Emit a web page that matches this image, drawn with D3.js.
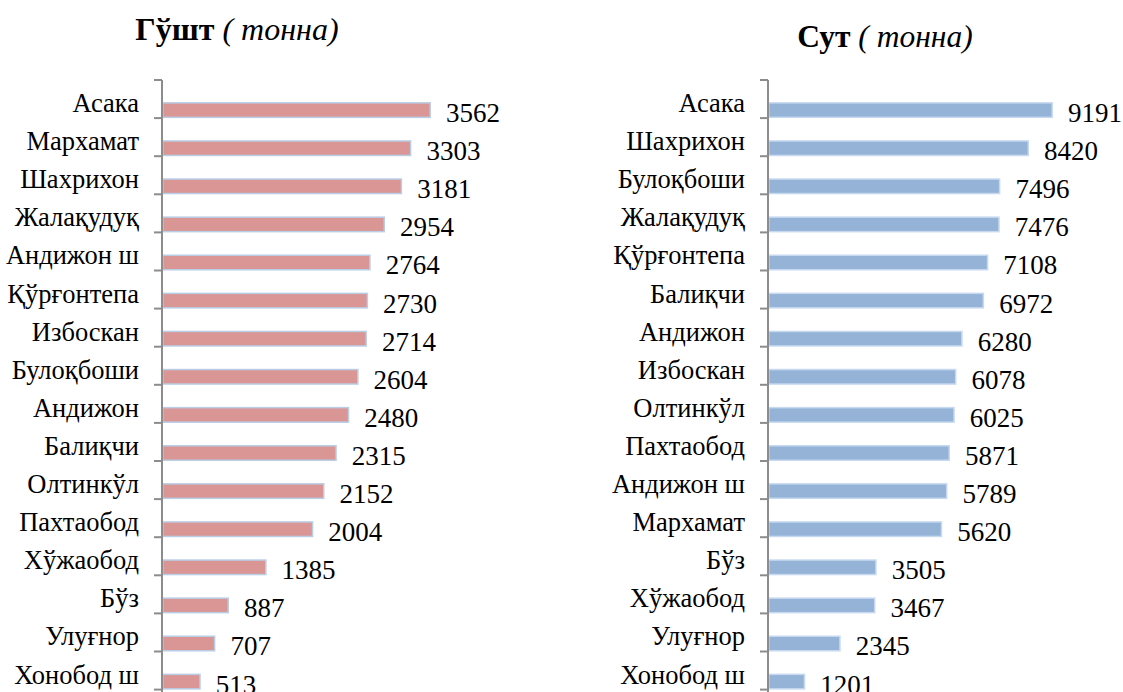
<!DOCTYPE html>
<html><head><meta charset="utf-8">
<script src="https://cdn.jsdelivr.net/npm/d3@7"></script>
<style>
html,body{margin:0;padding:0;background:#fff;}
svg{display:block;}
</style></head>
<body>
<svg id="chart" width="1123" height="692"></svg>
<script>
const meatCategories = ["Асака","Мархамат","Шахрихон","Жалақудуқ","Андижон ш","Қўрғонтепа","Избоскан","Булоқбоши","Андижон","Балиқчи","Олтинкўл","Пахтаобод","Хўжаобод","Бўз","Улуғнор","Хонобод ш"];
const meatValues = [3562,3303,3181,2954,2764,2730,2714,2604,2480,2315,2152,2004,1385,887,707,513];
const milkCategories = ["Асака","Шахрихон","Булоқбоши","Жалақудуқ","Қўрғонтепа","Балиқчи","Андижон","Избоскан","Олтинкўл","Пахтаобод","Андижон ш","Мархамат","Бўз","Хўжаобод","Улуғнор","Хонобод ш"];
const milkValues = [9191,8420,7496,7476,7108,6972,6280,6078,6025,5871,5789,5620,3505,3467,2345,1201];
const titles = [{bold:"Гўшт", italic:" ( тонна)"},{bold:"Сут", italic:" ( тонна)"}];

const FONT = '"Liberation Serif", "Times New Roman", serif';
const svg = d3.select("#chart");

function panel(cfg){
  const g = svg.append("g");
  const x = d3.scaleLinear().domain([0, cfg.max]).range([cfg.x0, cfg.x1]);
  const y = d3.scaleBand().domain(cfg.cats).range([80, 80 + 16*38.1]).padding(0);
  const step = y.step();
  const barH = 16;

  const t = g.append("text").attr("x", cfg.tx).attr("y", cfg.ty)
    .attr("text-anchor","middle").style("font-family", FONT).style("font-size", cfg.tsize + "px");
  t.append("tspan").style("font-weight","bold").text(cfg.title.bold);
  t.append("tspan").style("font-style","italic").text(cfg.title.italic);

  g.selectAll("rect.bar").data(cfg.vals).enter().append("rect")
    .attr("class","bar")
    .attr("x", cfg.x0 + 0.75)
    .attr("y", (d,i)=> y(cfg.cats[i]) + step - barH + 0.75)
    .attr("width", d => x(d) - cfg.x0 - 1.5)
    .attr("height", barH - 1.5)
    .attr("fill", cfg.fill)
    .attr("stroke", cfg.stroke)
    .attr("stroke-width", 1.5);

  g.append("line").attr("x1", cfg.x0).attr("x2", cfg.x0).attr("y1", 80).attr("y2", 692)
    .attr("stroke","#8c8c8c").attr("stroke-width",2);
  const tickPos = d3.range(0, cfg.cats.length + 1).map(i => y.range()[0] + i*step);
  g.selectAll("line.tk").data(tickPos).enter().append("line")
    .attr("x1", cfg.x0 - 8).attr("x2", cfg.x0).attr("y1", d=>d).attr("y2", d=>d)
    .attr("stroke","#8c8c8c").attr("stroke-width",2);

  g.selectAll("text.cat").data(cfg.cats).enter().append("text")
    .attr("x", cfg.x0 - 23).attr("y", d => y(d) + 32)
    .attr("text-anchor","end").style("font-family", FONT).style("font-size","26.5px").text(d=>d);

  g.selectAll("text.val").data(cfg.vals).enter().append("text")
    .attr("x", d => x(d) + 15).attr("y", (d,i) => y(cfg.cats[i]) + 42)
    .style("font-family", FONT).style("font-size","27px").text(d=>d);
}

panel({cats: meatCategories, vals: meatValues, max: 4000, x0: 162, x1: 162 + 4000*0.0755,
  fill:"#d99694", stroke:"#b9cde5", title: titles[0], tx: 237, ty: 40, tsize: 32});
panel({cats: milkCategories, vals: milkValues, max: 10000, x0: 768, x1: 768 + 10000*0.031,
  fill:"#95b3d7", stroke:"#c6d9f1", title: titles[1], tx: 885, ty: 47, tsize: 31.5});
</script>
</body></html>
